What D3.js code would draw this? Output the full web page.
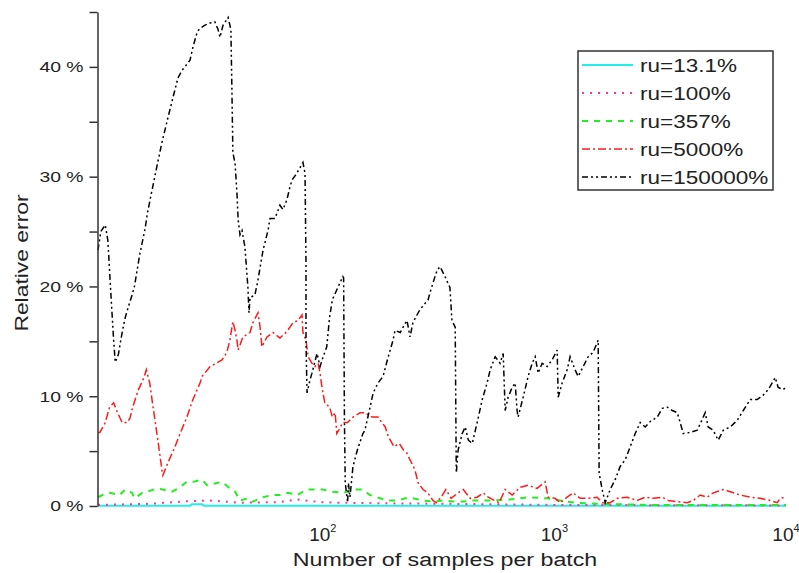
<!DOCTYPE html>
<html>
<head>
<meta charset="utf-8">
<script src="https://cdn.jsdelivr.net/npm/d3@7"></script>
<style>
  body { margin: 0; background: #fff; }
  svg { display: block; }
  text { font-family: "Liberation Sans", Arial, sans-serif; fill: #222; }
</style>
</head>
<body>
<div id="chart"></div>
<script>
// legend labels, in drawing order
const seriesNames = ["ru=13.1%", "ru=100%", "ru=357%", "ru=5000%", "ru=150000%"];

// [samples per batch, relative error %]
const ru131 = [[10.7,0.03],[26.7,0.03],[27.2,0.15],[30.1,0.15],[30.7,0.03],[10000,0.03]];

const ru100 = [[10.7,0.1],[17.9,0.2],[26.7,0.45],[32.6,0.5],[43.9,0.3],[65.3,0.35],[77.4,0.6],
  [97.3,0.35],[119,0.3],[177,0.25],[354,0.2],[958,0.1],[10000,0.05]];

const ru357 = [[10.7,0.8],[11.2,1.0],[12.0,1.2],[13.3,1.0],[14.0,1.5],[15.0,1.2],[15.4,0.7],[16.6,1.2],
  [17.4,1.3],[19.2,1.6],[20.4,1.5],[22.3,1.3],[23.7,1.6],[25.9,2.2],[27.5,2.2],[30.1,2.4],[31.6,1.9],
  [34.9,2.1],[36.7,2.2],[39.7,1.6],[41.8,1.3],[43.9,0.5],[47.5,0.7],[49.9,0.4],[55.2,0.8],[60.4,1.0],
  [65.3,1.0],[70.7,1.2],[77.4,1.0],[85.5,1.5],[90.7,1.5],[100,1.5],[110,1.3],[123,1.2],[135,1.5],
  [148,1.5],[160,1.0],[171,0.8],[190,0.5],[209,0.5],[227,0.7],[245,0.7],[271,0.5],[299,0.4],[330,0.5],
  [365,0.4],[404,0.4],[446,0.5],[528,0.5],[644,0.6],[770,0.8],[930,0.7],[1059,0.5],[1229,0.3],
  [1576,0.2],[2592,0.1],[4261,0.1],[10000,0.1]];

const ru5000 = [[10.7,6.7],[10.9,6.7],[11.5,7.6],[12.0,9.0],[12.5,9.4],[13.0,8.5],[13.6,7.6],[14.3,7.6],
  [14.7,8.0],[15.1,9.0],[16.0,10.6],[16.9,11.7],[17.3,12.4],[17.9,11.2],[18.5,9.0],[19.4,6.0],[20.2,3.3],
  [20.4,2.8],[21.4,3.9],[23.0,5.4],[24.2,6.6],[25.9,8.1],[27.5,9.7],[29.5,11.2],[30.1,11.8],[32.6,12.7],
  [36.7,13.3],[38.5,14.0],[39.7,15.1],[40.9,16.8],[41.8,16.0],[42.6,15.1],[43.1,14.2],[45.2,15.4],
  [48.5,15.8],[49.9,16.7],[52.5,17.6],[53.6,16.3],[54.6,14.5],[57.4,15.4],[61.0,15.8],[65.3,15.3],
  [70.0,15.9],[74.4,16.7],[78.1,16.9],[81.3,17.4],[82.1,15.8],[84.6,15.1],[86.4,13.6],[89.8,13.0],
  [92.5,12.7],[95.4,13.0],[97.3,12.1],[99.2,10.8],[102,9.4],[107,9.0],[110,8.1],[113,8.5],[115,6.6],
  [122,7.6],[128,7.6],[135,8.1],[145,8.5],[152,8.5],[163,8.1],[173,8.1],[186,7.2],[192,6.3],[203,5.4],
  [214,5.7],[223,5.1],[231,4.8],[238,4.2],[250,3.3],[258,2.1],[271,1.5],[284,1.2],[299,0.5],[309,0.3],
  [324,0.8],[340,1.5],[358,0.7],[384,1.2],[404,1.5],[433,0.7],[464,0.8],[493,1.2],[518,0.8],[577,0.3],
  [613,1.5],[657,1.0],[711,1.7],[770,1.9],[842,1.6],[912,2.2],[939,0.8],[1007,0.7],[1059,0.3],
  [1135,0.8],[1205,1.2],[1292,0.7],[1399,0.7],[1530,0.8],[1608,0.3],[1741,0.3],[1867,0.7],[2063,0.8],
  [2279,0.5],[2466,0.8],[2671,0.7],[2922,0.8],[3102,0.5],[3392,0.4],[3747,0.3],[3975,0.5],[4261,1.0],
  [4570,0.8],[4850,1.2],[5357,1.5],[5743,1.3],[6344,1.0],[7008,0.8],[7741,0.7],[8551,0.5],[9170,0.3],
  [9445,0.7],[10000,0.8]];

const ru150000 = [[10.7,23.3],[11.0,25.0],[11.5,25.6],[11.8,24.2],[12.0,21.5],[12.2,18.8],[12.5,15.1],
  [12.7,13.1],[13.1,13.8],[13.6,15.8],[14.0,17.1],[14.4,18.0],[15.0,19.2],[15.4,20.1],[16.2,22.9],
  [17.1,25.3],[17.5,26.7],[18.2,28.5],[19.2,30.9],[20.2,33.1],[21.4,35.3],[22.6,37.3],[23.7,39.0],
  [24.7,39.7],[25.8,40.2],[26.7,40.6],[27.5,41.8],[28.7,43.2],[29.5,43.5],[31.0,43.8],[32.6,44.0],
  [34.2,44.1],[35.3,43.4],[36.0,42.7],[37.1,43.8],[39.0,44.5],[40.1,43.4],[40.5,38.1],[40.9,32.2],
  [41.8,31.2],[42.6,28.5],[43.1,26.1],[43.9,24.7],[44.8,25.1],[46.1,23.6],[47.5,19.9],[48.0,17.6],
  [48.5,19.0],[50.9,19.2],[52.5,20.6],[55.2,23.3],[58.0,25.1],[59.2,26.2],[62.2,26.2],[65.3,27.4],
  [67.3,27.0],[70.0,27.9],[72.2,29.1],[73.7,29.7],[76.6,30.2],[79.7,30.8],[82.1,31.3],[83.8,30.3],
  [84.6,22.4],[84.6,15.1],[85.5,10.3],[88.1,11.5],[89.8,12.1],[94.4,13.9],[97.3,12.7],[100,13.5],
  [104,14.5],[107,17.2],[110,18.8],[115,19.7],[122,20.9],[123,20.8],[124,7.8],[125,2.1],[128,0.3],
  [129,2.1],[131,0.8],[135,3.6],[141,5.1],[149,6.6],[152,6.9],[160,9.0],[165,10.3],[173,11.2],[182,11.8],
  [190,13.3],[201,15.1],[205,16.0],[216,15.8],[225,16.5],[231,16.9],[238,15.4],[245,16.7],[255,17.4],
  [263,17.9],[285,18.8],[290,19.4],[302,20.6],[312,21.5],[321,21.8],[337,20.9],[354,19.9],[361,16.9],
  [373,16.3],[377,3.0],[384,5.1],[400,6.6],[412,7.2],[425,6.0],[442,5.7],[464,7.6],[488,9.7],[512,11.2],
  [528,12.4],[555,13.6],[583,13.0],[601,13.9],[613,8.7],[631,9.9],[657,10.8],[677,11.2],[690,8.7],
  [697,8.1],[733,9.9],[770,11.8],[802,13.0],[826,13.6],[851,12.1],[885,13.0],[930,12.7],[977,13.3],
  [1028,14.2],[1038,9.9],[1080,11.2],[1135,12.4],[1169,13.6],[1229,12.4],[1267,11.8],[1331,12.7],
  [1399,13.6],[1470,14.0],[1545,15.1],[1560,3.0],[1608,1.5],[1657,0.3],[1741,1.5],[1830,2.4],[1923,3.6],
  [2021,4.2],[2125,5.4],[2233,6.6],[2347,7.6],[2466,7.2],[2592,7.7],[2780,8.1],[2922,8.9],[3072,9.0],
  [3228,8.7],[3392,8.5],[3493,7.6],[3600,6.6],[3858,6.7],[4138,6.9],[4479,8.5],[4614,7.2],[4850,6.9],
  [5097,6.0],[5357,6.9],[5743,7.2],[6156,7.8],[6540,8.7],[7008,9.7],[7512,9.7],[7974,10.1],[8385,10.6],
  [8987,11.7],[9251,10.8],[9720,10.6],[10000,10.8]];

const xTicks = [100, 1000, 10000];
const yTicks = [0, 5, 10, 15, 20, 25, 30, 35, 40, 45];

const allSeries = [ru131, ru100, ru357, ru5000, ru150000];
const colors = ["#22eeee", "#ff3399", "#22ee22", "#ff1a1a", "#000000"];
const dashes = [null, "2,6", "6,6", "8,3,2,3", "6,3,2,3,2,3"];
const widths = [2, 2, 2, 1.5, 1.5];

const W = 799, H = 573;
const svg = d3.select("#chart").append("svg")
    .attr("width", W)
    .attr("height", H);

const x = d3.scaleLog().domain([10.7, 10000]).range([98, 786]);
const y = d3.scaleLinear().domain([0, 45]).range([506, 12]);

// text in the reference is drawn wider than the font, stretch it
function stretch(sel, k) {
    sel.each(function() {
        const w = this.getComputedTextLength();
        d3.select(this).attr("textLength", w * k).attr("lengthAdjust", "spacingAndGlyphs");
    });
}

const line = d3.line()
    .x(d => x(d[0]))
    .y(d => y(d[1]));

allSeries.forEach((s, i) => {
    svg.append("path")
        .datum(s)
        .attr("fill", "none")
        .attr("stroke", colors[i])
        .attr("stroke-width", widths[i])
        .attr("stroke-dasharray", dashes[i])
        .attr("d", line);
});

// y axis
const yAxis = svg.append("g")
    .attr("transform", "translate(97.5,0)")
    .call(d3.axisLeft(y)
        .tickValues(yTicks)
        .tickSize(8)
        .tickSizeOuter(0)
        .tickPadding(6)
        .tickFormat(d => d % 10 === 0 ? d + " %" : ""));
yAxis.select(".domain").attr("stroke", "#333").attr("stroke-width", 1.5);
yAxis.selectAll(".tick line").attr("stroke", "#333").attr("stroke-width", 1.5);
yAxis.selectAll(".tick text")
    .style("font-size", "15px")
    .attr("fill", "#222")
    .call(stretch, 1.29);

// x tick labels 10^n, no axis line
const xt = svg.append("g").selectAll("text")
    .data(xTicks)
    .enter()
    .append("text")
    .attr("x", d => x(d))
    .attr("y", 541)
    .attr("text-anchor", "middle")
    .style("font-size", "19px");
xt.append("tspan").text("10");
xt.append("tspan")
    .attr("dy", -9)
    .style("font-size", "11px")
    .text(d => Math.round(Math.log10(d)));

svg.append("text")
    .attr("x", 445)
    .attr("y", 566)
    .attr("text-anchor", "middle")
    .style("font-size", "18px")
    .text("Number of samples per batch")
    .call(stretch, 1.29);

svg.append("text")
    .attr("transform", "translate(28,263) rotate(-90)")
    .attr("text-anchor", "middle")
    .style("font-size", "18px")
    .text("Relative error")
    .call(stretch, 1.27);

// legend
const legend = svg.append("g");
legend.append("rect")
    .attr("x", 578)
    .attr("y", 51)
    .attr("width", 195)
    .attr("height", 139)
    .attr("fill", "#fff")
    .attr("stroke", "#333")
    .attr("stroke-width", 1.5);

const rowY = d3.scaleBand().domain(seriesNames).range([51, 191]);
seriesNames.forEach((name, i) => {
    const cy = rowY(name) + rowY.bandwidth() / 2;
    legend.append("line")
        .attr("x1", 582).attr("x2", 633)
        .attr("y1", cy).attr("y2", cy)
        .attr("stroke", colors[i])
        .attr("stroke-width", widths[i])
        .attr("stroke-dasharray", dashes[i]);
    legend.append("text")
        .attr("x", 640)
        .attr("y", cy + 6.5)
        .style("font-size", "18px")
        .text(name)
        .call(stretch, 1.25);
});
</script>
</body>
</html>
